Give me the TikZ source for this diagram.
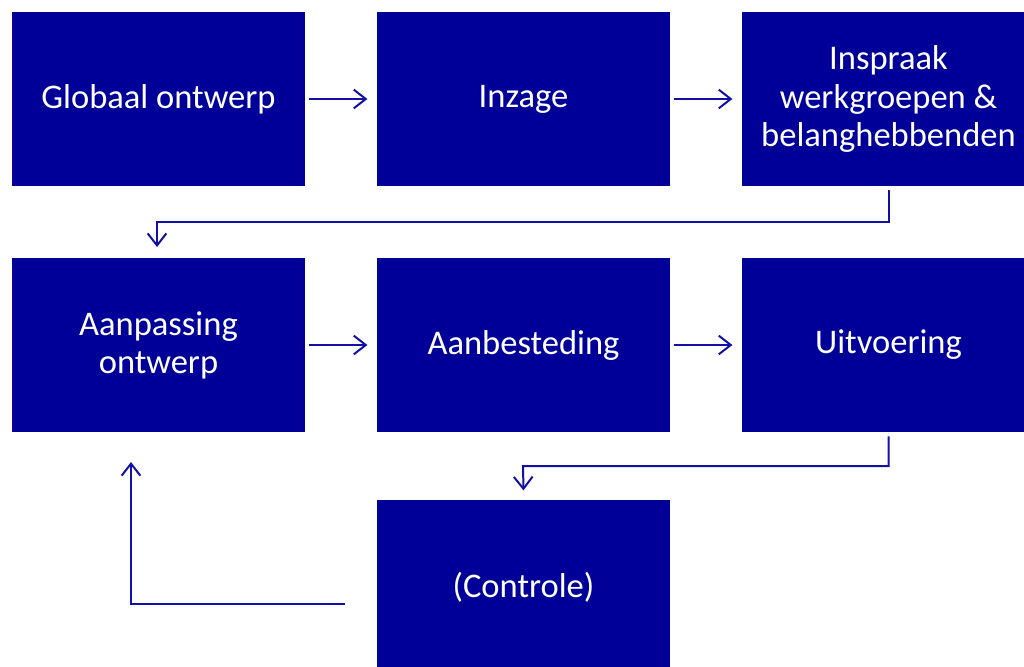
\documentclass[tikz,border=0pt]{standalone}
\usepackage{fontspec}
\setmainfont{Carlito}
\usetikzlibrary{arrows.meta}
\definecolor{boxblue}{RGB}{0,0,153}
\definecolor{lineblue}{RGB}{16,16,165}
\begin{document}
\begin{tikzpicture}[x=0.75pt,y=-0.75pt,
  box/.style={fill=boxblue,draw=none,text=white,minimum width=219.75pt,minimum height=130.5pt,
    inner sep=0pt,align=center,font=\fontsize{25.9}{28.6}\selectfont},
  conn/.style={draw=lineblue,line width=1.5pt,-{Straight Barb[length=9pt,width=14pt,line width=1.5pt]}}]
\useasboundingbox (0,0) rectangle (1024,667);
\begin{scope}
\clip (0,0) rectangle (1024,667);
\node[box] (A) at (158.5,99) {Globaal ontwerp};
\node[box] (B) at (523.5,99) {Inzage};
\node[box] (C) at (888.5,99) {Inspraak\\werkgroepen \&\\belanghebbenden};
\node[box] (D) at (158.5,345) {Aanpassing\\ontwerp};
\node[box] (E) at (523.5,345) {Aanbesteding};
\node[box] (F) at (888.5,345) {Uitvoering};
\node[box] (G) at (523.5,587) {(Controle)};
\end{scope}
\coordinate (g1) at (345,604);
\draw[conn] ([xshift=3pt]A.east) -- ([xshift=-7pt]B.west);
\draw[conn] ([xshift=3pt]B.east) -- ([xshift=-7pt]C.west);
\draw[conn] ([yshift=-3pt]C.south) -- (888.5,222) -- (157,222) -- ([yshift=8pt]D.north -| 157,0);
\draw[conn] ([xshift=3pt]D.east) -- ([xshift=-7pt]E.west);
\draw[conn] ([xshift=3pt]E.east) -- ([xshift=-7pt]F.west);
\draw[conn] ([yshift=-3pt]F.south) -- (888.5,466) -- (523,466) -- ([yshift=7pt]G.north);
\draw[conn] (g1) -- (131,604) -- (131,462);
\end{tikzpicture}
\end{document}
